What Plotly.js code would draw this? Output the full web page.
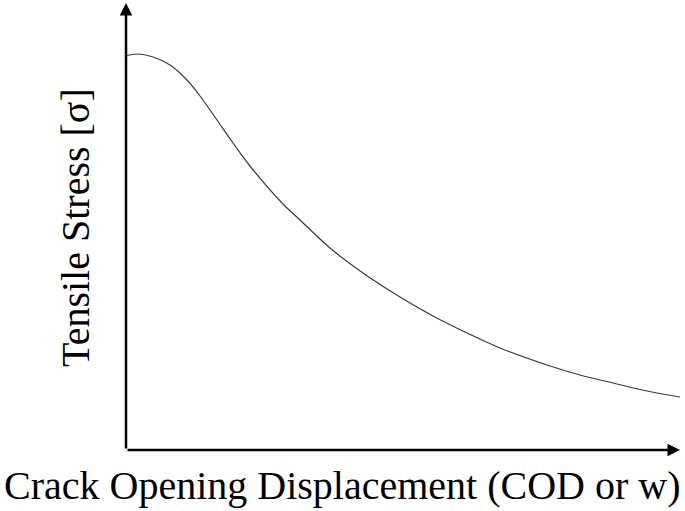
<!DOCTYPE html>
<html>
<head>
<meta charset="utf-8">
<script src="https://cdn.plot.ly/plotly-3.0.1.min.js"></script>
<style>
  html, body { margin: 0; padding: 0; background: #fff; }
  #chart { width: 685px; height: 511px; }
</style>
</head>
<body>
<div id="chart"></div>
<script>
// softening curve (arbitrary units)
var cod = [0, 11, 27, 44, 61, 74, 91, 107, 124, 157, 174, 204, 237, 274, 307, 341, 374, 421, 454, 487, 521, 554];
var stress = [394, 396, 393, 385, 370, 354, 330, 307, 284, 246, 230, 202, 177, 153, 134, 117, 102, 85, 75, 67, 59, 53];

var xMax = 554;
var yMax = 447;

var trace = {
  x: cod,
  y: stress,
  mode: 'lines',
  type: 'scatter',
  line: { color: '#3a3a3a', width: 1.2, shape: 'spline', smoothing: 1 },
  hoverinfo: 'skip'
};

var serif = 'Liberation Serif, Times New Roman, serif';

// axes drawn as arrows
function axisArrow(x0, y0, x1, y1) {
  return {
    x: x1, y: y1, ax: x0, ay: y0,
    xref: 'x', yref: 'y', axref: 'x', ayref: 'y',
    text: '', showarrow: true,
    arrowhead: 2, arrowsize: 1, arrowwidth: 2.5, arrowcolor: '#000'
  };
}

var layout = {
  width: 685,
  height: 511,
  margin: { l: 126, r: 5, t: 3, b: 61 },
  paper_bgcolor: '#fff',
  plot_bgcolor: '#fff',
  showlegend: false,
  xaxis: { range: [0, xMax], showgrid: false, zeroline: false, showticklabels: false, ticks: '', showline: false },
  yaxis: { range: [0, yMax], showgrid: false, zeroline: false, showticklabels: false, ticks: '', showline: false },
  annotations: [
    axisArrow(0, 0, 0, yMax),
    axisArrow(0, 0, xMax, 0),
    {
      text: 'Crack Opening Displacement (COD or w)',
      xref: 'paper', yref: 'paper', x: 0.39, y: -0.08,
      xanchor: 'center', yanchor: 'middle', showarrow: false,
      font: { family: serif, size: 40, color: '#000' }
    },
    {
      text: 'Tensile Stress [σ]',
      xref: 'paper', yref: 'paper', x: -0.09, y: 0.497,
      xanchor: 'center', yanchor: 'middle', showarrow: false, textangle: -90,
      font: { family: serif, size: 40, color: '#000' }
    }
  ]
};

Plotly.newPlot('chart', [trace], layout, { staticPlot: true });
</script>
</body>
</html>
